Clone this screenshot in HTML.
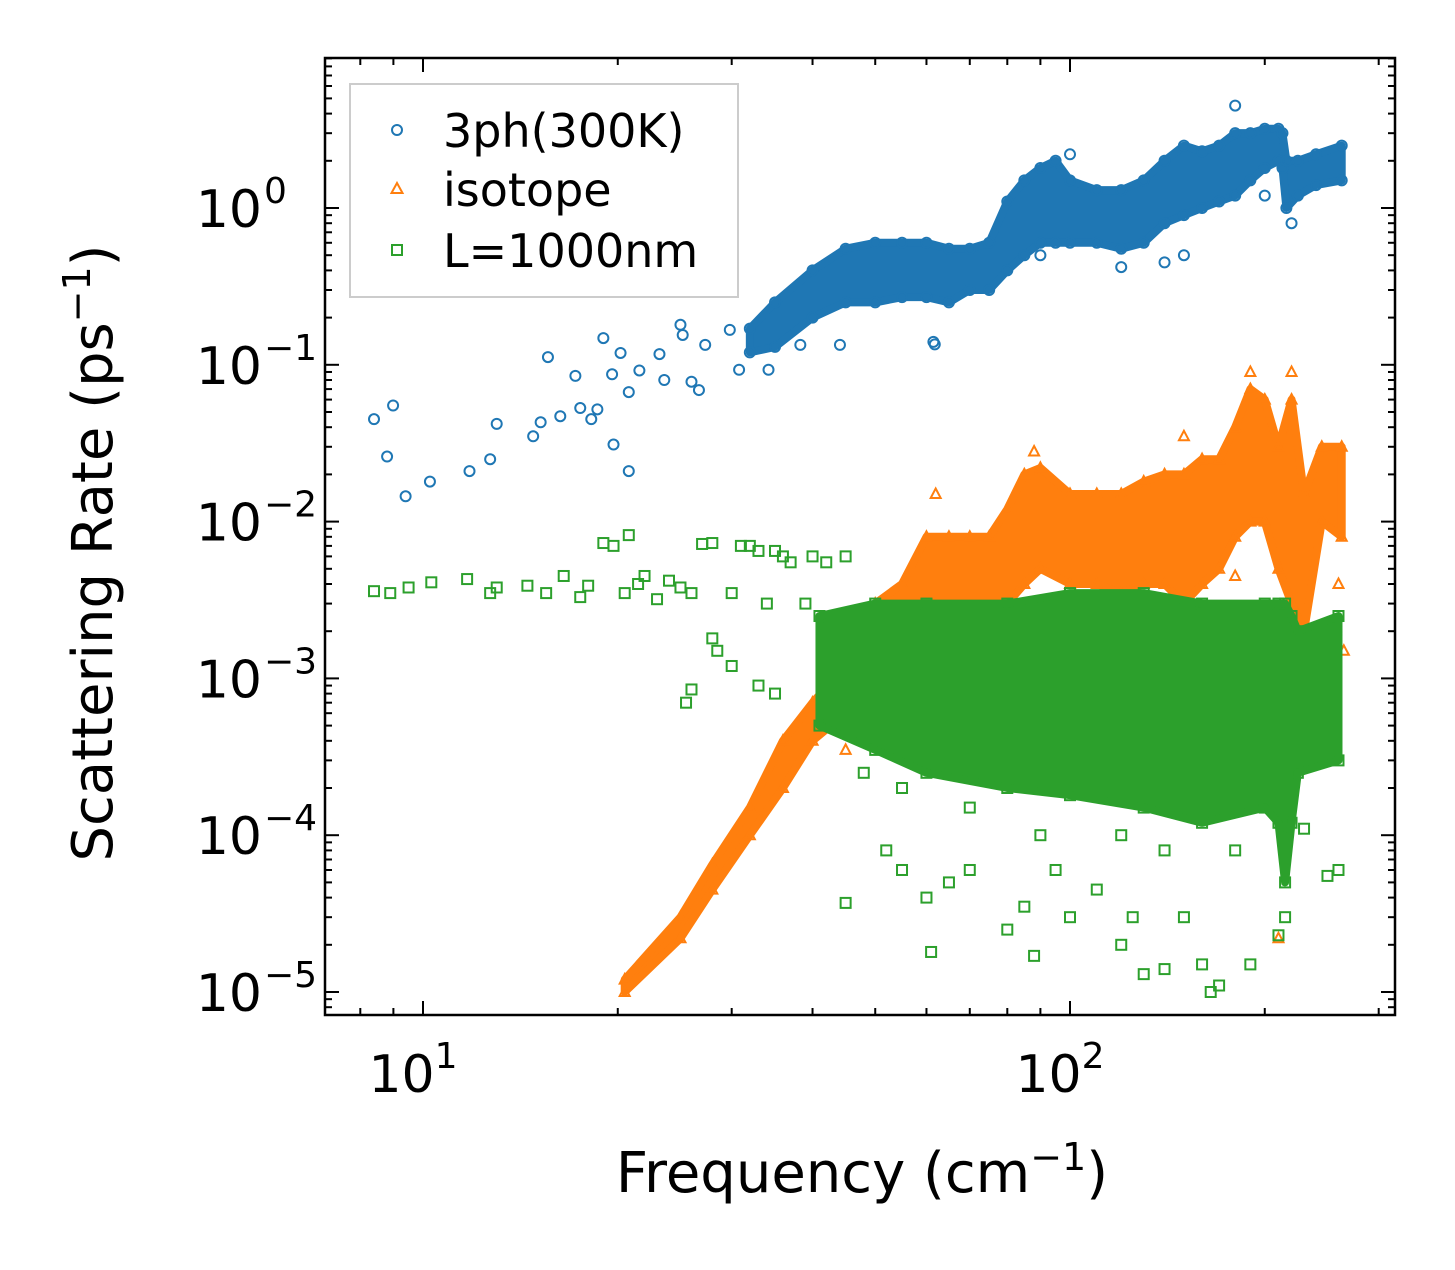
<!DOCTYPE html>
<html><head><meta charset="utf-8"><style>
body{margin:0;background:#fff}
svg text{font-family:"DejaVu Sans","Liberation Sans",sans-serif;fill:#000}
</style></head><body>
<svg id="chart" width="1455" height="1265" viewBox="0 0 1455 1265" xmlns="http://www.w3.org/2000/svg">
<rect width="1455" height="1265" fill="#fff"/>
<g id="marks"></g>
<g id="axes"></g>
<text x="862" y="1192" font-size="56" text-anchor="middle">Frequency (cm<tspan dy="-22" font-size="38">−1</tspan><tspan dy="22">)</tspan></text>
<text transform="translate(112,553) rotate(-90)" font-size="56" text-anchor="middle">Scattering Rate (ps<tspan dy="-22" font-size="38">−1</tspan><tspan dy="22">)</tspan></text>
<g>
<rect x="350" y="84" width="388" height="213" fill="#fff" fill-opacity="0.8" stroke="#ccc" stroke-width="2"/>
<circle cx="397" cy="130" r="5" fill="none" stroke="#1f77b4" stroke-width="2"/>
<text x="443" y="147" font-size="46">3ph(300K)</text>
<path d="M397,183 L402.5,193 L391.5,193 Z" fill="none" stroke="#ff7f0e" stroke-width="2"/>
<text x="443" y="206" font-size="46">isotope</text>
<rect x="392" y="245" width="10" height="10" fill="none" stroke="#2ca02c" stroke-width="2"/>
<text x="443" y="267" font-size="46">L=1000nm</text>
</g>
</svg>
<script>
// ---- data ----
const blueBandFreq=[32,35,40,45,50,55,60,65,70,75,80,85,90,95,100,110,120,130,140,150,160,170,180,190,200,210,213,216,225,240,263];
const blueBandLo=[0.12,0.13,0.2,0.25,0.25,0.27,0.27,0.25,0.3,0.3,0.4,0.5,0.6,0.6,0.6,0.6,0.55,0.6,0.8,0.9,1.0,1.1,1.2,1.5,1.8,2.0,1.8,1.0,1.2,1.4,1.5];
const blueBandHi=[0.17,0.25,0.4,0.55,0.6,0.6,0.6,0.55,0.55,0.6,1.1,1.5,1.8,2.0,1.5,1.3,1.3,1.5,2.0,2.5,2.3,2.5,3.0,3.0,3.2,3.2,3.0,2.0,2.0,2.2,2.5];
const blueFreq=[8.4,8.99,8.8,9.4,10.25,11.8,12.7,13.0,14.8,15.2,15.6,16.3,17.2,17.5,18.2,18.6,19.0,19.7,20.2,20.8,20.8,21.6,19.6,23.2,23.6,25.2,25.0,26.0,26.7,27.3,29.8,30.8,34.2,38.3,44.1,61.5,61.8,180,100,120,150,220,90,140,200];
const blueVal=[0.045,0.055,0.026,0.0145,0.018,0.021,0.025,0.042,0.035,0.043,0.112,0.047,0.085,0.053,0.045,0.052,0.148,0.031,0.119,0.021,0.067,0.092,0.087,0.117,0.08,0.155,0.18,0.078,0.069,0.134,0.167,0.093,0.093,0.134,0.134,0.14,0.135,4.5,2.2,0.42,0.5,0.8,0.5,0.45,1.2];
const orangeBandFreq=[20.5,25,28,32,36,40,45,50,55,60,65,70,75,80,85,90,100,110,120,130,140,150,160,170,180,190,200,210,220,230,245,263];
const orangeBandLo=[1e-5,2.2e-5,4.5e-5,1e-4,2e-4,4e-4,6e-4,1e-3,1.5e-3,2e-3,2.5e-3,2.5e-3,2.5e-3,3e-3,4e-3,5e-3,4e-3,4e-3,3.5e-3,4e-3,4e-3,3e-3,4e-3,5e-3,8e-3,1e-2,1e-2,5e-3,3e-3,2e-3,1e-2,8e-3];
const orangeBandHi=[1.2e-5,3e-5,6.5e-5,1.5e-4,4e-4,7e-4,1.2e-3,3e-3,4e-3,8e-3,8e-3,8e-3,8e-3,1.2e-2,2e-2,2.2e-2,1.5e-2,1.5e-2,1.5e-2,1.8e-2,2e-2,2e-2,2.5e-2,2.5e-2,4e-2,7e-2,6e-2,3e-2,6e-2,1.5e-2,3e-2,3e-2];
const orangeFreq=[45,210,225,265,180,260,190,220,62,88,150];
const orangeVal=[3.5e-4,2.2e-5,1.5e-3,1.5e-3,4.5e-3,4e-3,0.09,0.09,0.015,0.028,0.035];
const greenBandFreq=[41,50,60,80,100,130,160,200,210,215,220,225,260];
const greenBandLo=[5e-4,3.5e-4,2.5e-4,2e-4,1.8e-4,1.5e-4,1.2e-4,1.5e-4,1.2e-4,5e-5,1.2e-4,2.5e-4,3e-4];
const greenBandHi=[2.5e-3,3e-3,3e-3,3e-3,3.5e-3,3.5e-3,3e-3,3e-3,3e-3,3e-3,2.5e-3,2e-3,2.5e-3];
const greenFreq=[8.4,8.9,9.5,10.3,11.7,12.7,13,14.5,15.5,16.5,17.5,18,19,19.7,20.5,20.8,21.5,22,23,24,25,26,27,28,28,28.5,30,31,32,33,34,35,36,37,39,40,42,45,25.5,26,30,33,35,45,55,52,60,61,65,70,80,85,88,95,100,110,120,125,130,140,150,160,165,170,190,210,215,250,260,48,55,70,90,120,140,180,230];
const greenVal=[3.6e-3,3.5e-3,3.8e-3,4.1e-3,4.3e-3,3.5e-3,3.8e-3,3.9e-3,3.5e-3,4.5e-3,3.3e-3,3.9e-3,7.3e-3,7e-3,3.5e-3,8.2e-3,4e-3,4.5e-3,3.2e-3,4.2e-3,3.8e-3,3.5e-3,7.2e-3,7.3e-3,1.8e-3,1.5e-3,3.5e-3,7e-3,7e-3,6.5e-3,3e-3,6.5e-3,6e-3,5.5e-3,3e-3,6e-3,5.5e-3,6e-3,7e-4,8.5e-4,1.2e-3,9e-4,8e-4,3.7e-5,6e-5,8e-5,4e-5,1.8e-5,5e-5,6e-5,2.5e-5,3.5e-5,1.7e-5,6e-5,3e-5,4.5e-5,2e-5,3e-5,1.3e-5,1.4e-5,3e-5,1.5e-5,1e-5,1.1e-5,1.5e-5,2.3e-5,3e-5,5.5e-5,6e-5,2.5e-4,2e-4,1.5e-4,1e-4,1e-4,8e-5,8e-5,1.1e-4];
const xTickVals=[10,100];
const xTickLabels=["1","2"];
const yTickVals=[1,0.1,0.01,0.001,1e-4,1e-5];
const yTickLabels=["0","−1","−2","−3","−4","−5"];

// ---- scales ----
const L=325,R=1395,T=58,B=1015;
const xs=f=>423+647*(Math.log10(f)-1);
const ys=v=>208-156.8*Math.log10(v);
const NS="http://www.w3.org/2000/svg";
const marks=document.getElementById('marks'), axes=document.getElementById('axes');
function mk(tag,attrs,parent){const e=document.createElementNS(NS,tag);for(const k in attrs)e.setAttribute(k,attrs[k]);parent.appendChild(e);return e;}
const clip=mk('clipPath',{id:'pc'},marks);mk('rect',{x:L,y:T,width:R-L,height:B-T},clip);
const plot=mk('g',{'clip-path':'url(#pc)'},marks);

function marker(kind,color,f,v,g){
  const x=xs(f),y=ys(v);let e;
  if(kind==='c')e=mk('circle',{cx:x,cy:y,r:5,fill:'none',stroke:color,'stroke-width':2},g);
  else if(kind==='t')e=mk('path',{d:`M${x},${y-5.5} L${x+5},${y+4} L${x-5},${y+4} Z`,fill:'none',stroke:color,'stroke-width':2},g);
  else e=mk('rect',{x:x-5,y:y-5,width:10,height:10,fill:'none',stroke:color,'stroke-width':2},g);
  return e;
}
function series(name,kind,color,bf,lo,hi,pf,pv){
  const g=mk('g',{},plot);
  
  
  let d='M'+bf.map((f,i)=>xs(f)+','+ys(hi[i])).join(' L');
  d+=' L'+bf.map((f,i)=>xs(f)+','+ys(lo[i])).reverse().join(' L')+' Z';
  const band=mk('path',{d:d,fill:color,stroke:color,'stroke-width':8,'stroke-linejoin':'round'},g);
  
  
  bf.forEach((f,i)=>{
    const a=marker(kind,color,f,hi[i],g);
    const b=marker(kind,color,f,lo[i],g);
  });
  pf.forEach((f,i)=>{const p=marker(kind,color,f,pv[i],g);
    
    });
}
series('3ph','c','#1f77b4',blueBandFreq,blueBandLo,blueBandHi,blueFreq,blueVal);
series('isotope','t','#ff7f0e',orangeBandFreq,orangeBandLo,orangeBandHi,orangeFreq,orangeVal);
series('boundary','s','#2ca02c',greenBandFreq,greenBandLo,greenBandHi,greenFreq,greenVal);

// ---- axes ----
const frame=mk('rect',{x:L,y:T,width:R-L,height:B-T,fill:'none',stroke:'#000','stroke-width':2.5},axes);

for(let dec=1;dec<=100;dec*=10){for(let m=1;m<10;m++){const f=m*dec;const x=xs(f);if(x<L||x>R)continue;
  const len=m===1?14:7;
  mk('line',{x1:x,y1:B,x2:x,y2:B-len,stroke:'#000','stroke-width':2},axes);
  mk('line',{x1:x,y1:T,x2:x,y2:T+len,stroke:'#000','stroke-width':2},axes);}}
for(let e=-6;e<=1;e++){for(let m=1;m<10;m++){const v=m*Math.pow(10,e);const y=ys(v);if(y<T||y>B)continue;
  const len=m===1?14:7;
  mk('line',{x1:L,y1:y,x2:L+len,y2:y,stroke:'#000','stroke-width':2},axes);
  mk('line',{x1:R,y1:y,x2:R-len,y2:y,stroke:'#000','stroke-width':2},axes);}}
xTickVals.forEach((v,i)=>{const t=mk('text',{x:xs(v)-10,y:1092,'font-size':52,'text-anchor':'middle'},axes);
  
  t.textContent='10';const s=mk('tspan',{dy:-24,'font-size':36},t);s.textContent=xTickLabels[i];});
yTickVals.forEach((v,i)=>{const t=mk('text',{x:262,y:ys(v)+19,'font-size':52,'text-anchor':'end'},axes);
  
  t.textContent='10';const s=mk('tspan',{dy:-24,'font-size':36,x:264,'text-anchor':'start'},t);s.textContent=yTickLabels[i];});
</script>
</body></html>
